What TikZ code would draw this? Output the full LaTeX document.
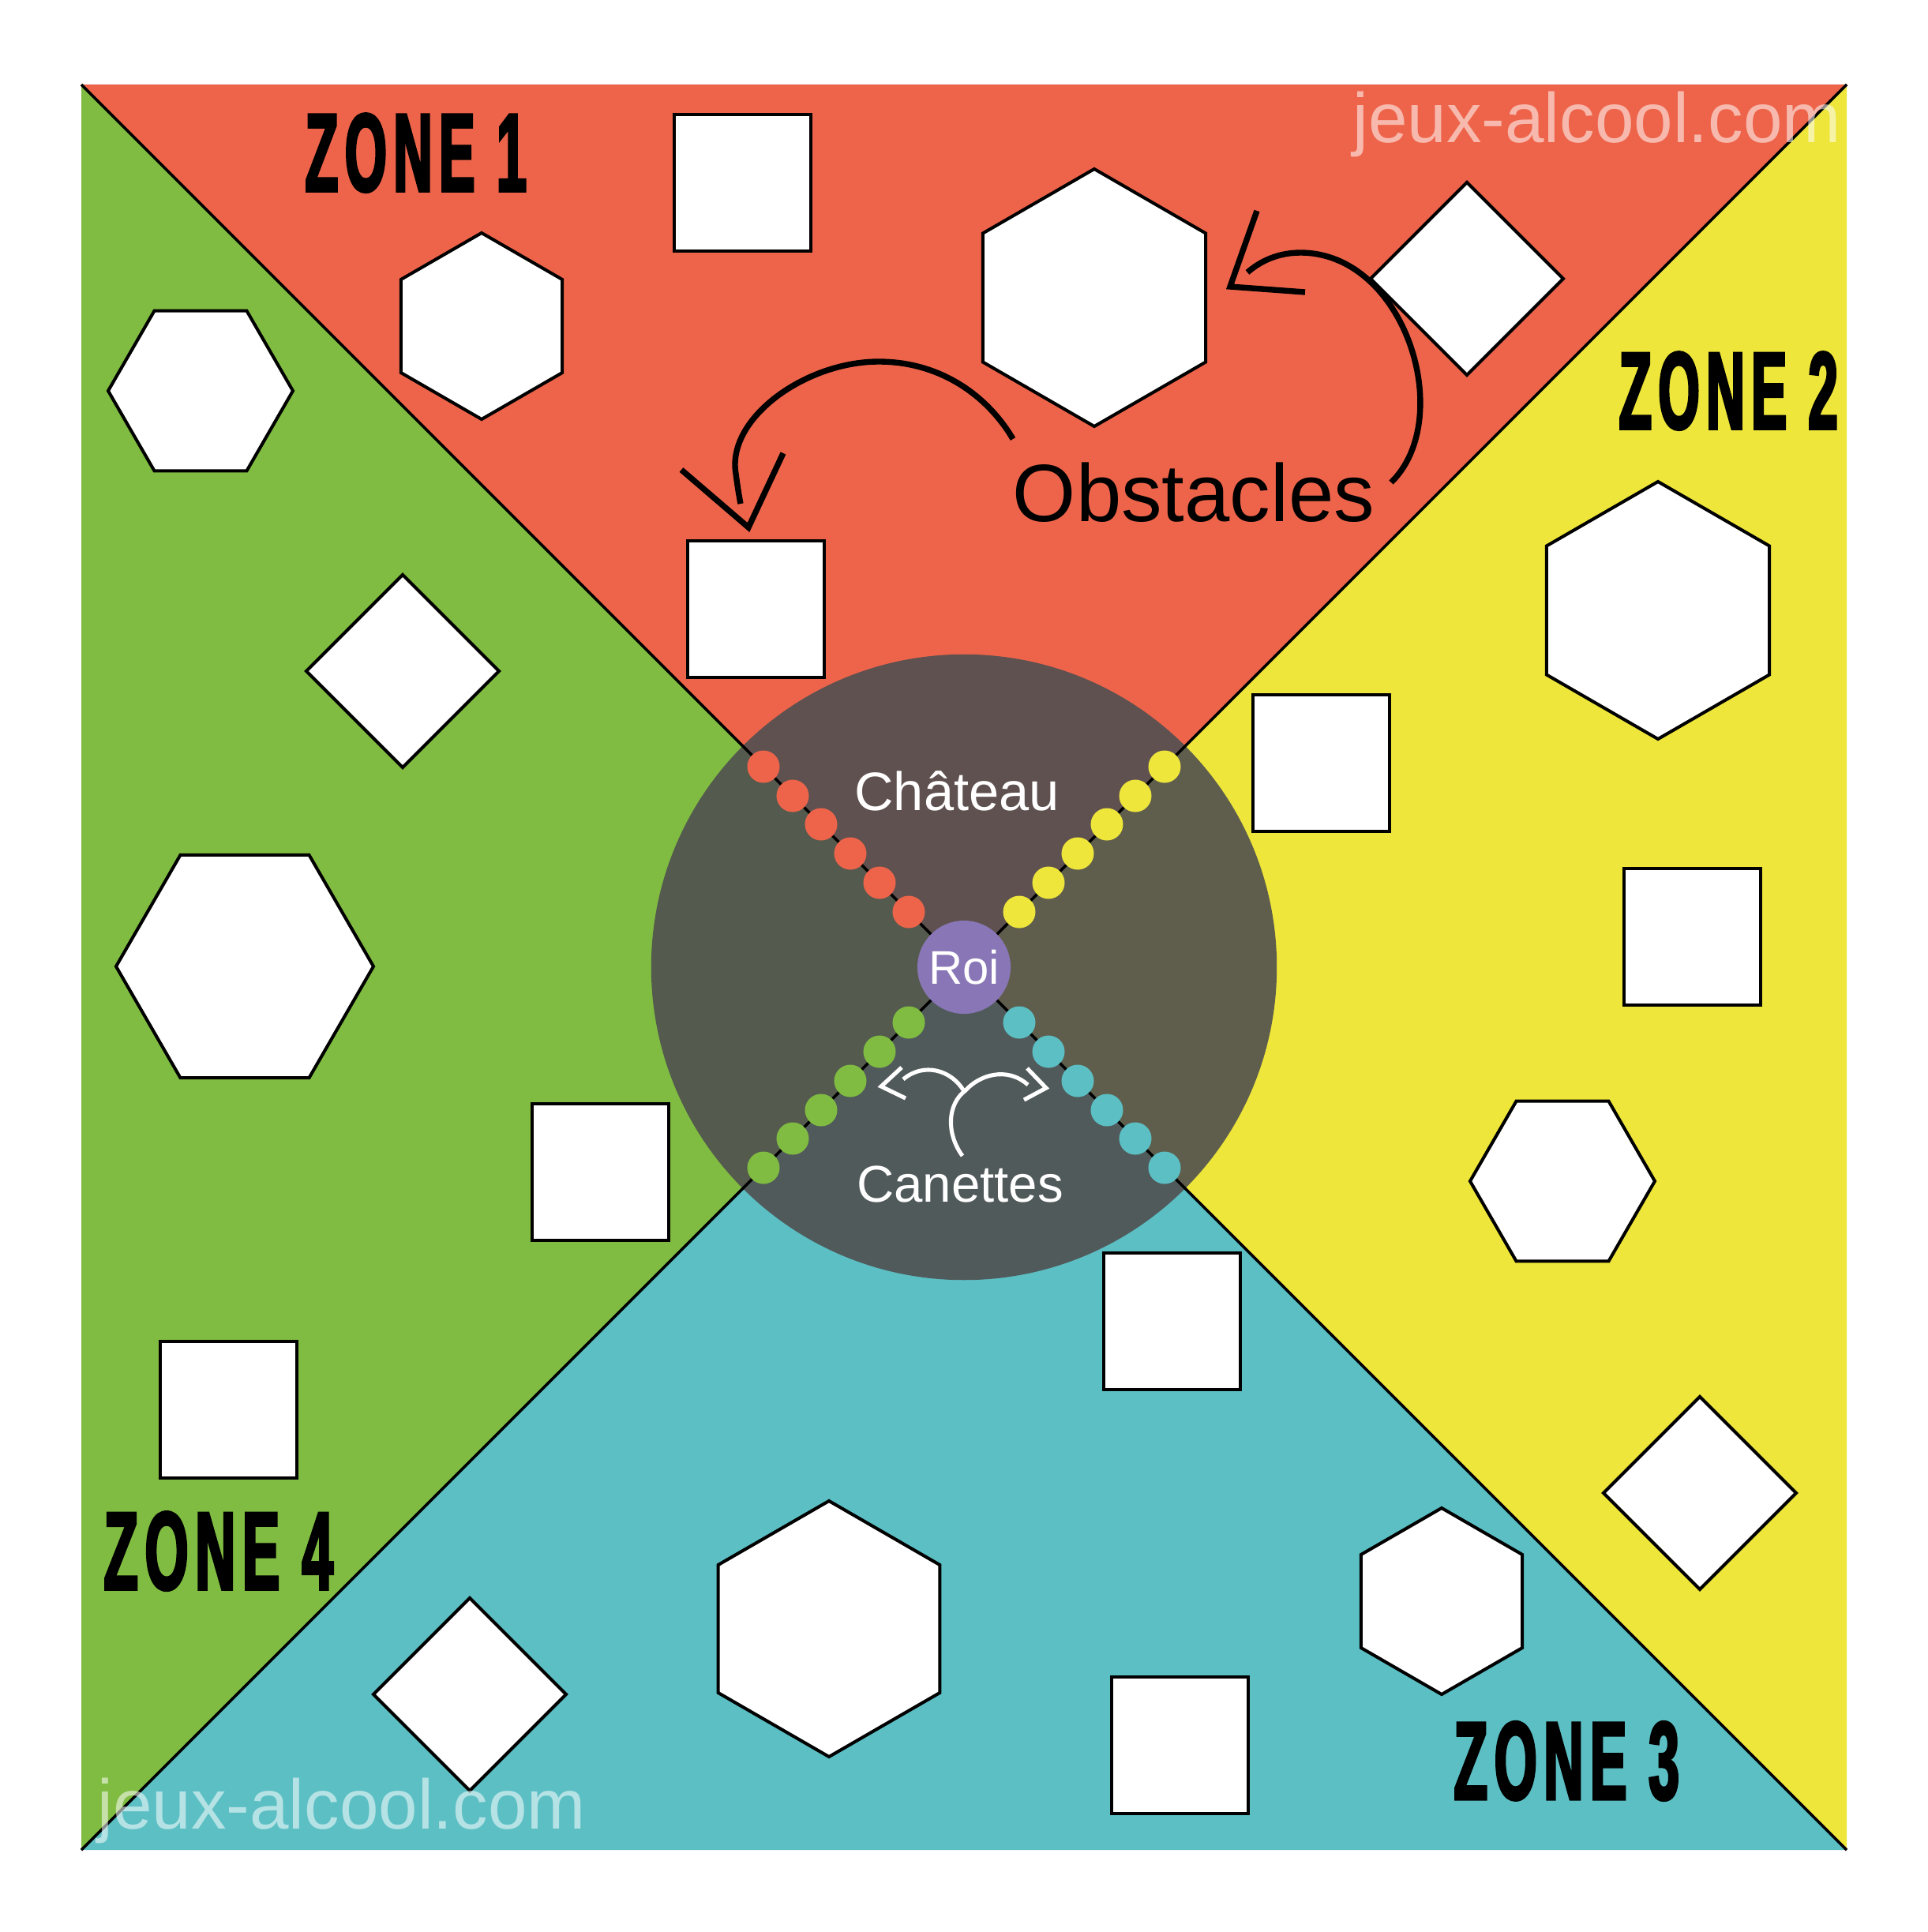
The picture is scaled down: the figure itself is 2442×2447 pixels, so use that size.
\documentclass[tikz,border=0pt]{standalone}
\usepackage{fontspec}
\setmainfont{Liberation Sans}
\newfontfamily\zonefont{Liberation Sans}[FakeStretch=0.56,FakeBold=2.6,LetterSpace=7]
\definecolor{zred}{RGB}{238,100,74}
\definecolor{zyel}{RGB}{238,230,58}
\definecolor{zteal}{RGB}{91,191,196}
\definecolor{zgreen}{RGB}{128,188,65}
\definecolor{roicol}{RGB}{137,118,182}
\definecolor{ovl}{RGB}{80,80,80}
\newcommand\hexP[3]{\draw[obst,shift={(#1,#2)}] (90:#3) -- (150:#3) -- (210:#3) -- (270:#3) -- (330:#3) -- (30:#3) -- cycle;}
\newcommand\hexF[3]{\draw[obst,shift={(#1,#2)}] (0:#3) -- (60:#3) -- (120:#3) -- (180:#3) -- (240:#3) -- (300:#3) -- cycle;}
\newcommand\obsSq[2]{\draw[obst] (#1,#2) rectangle ++(173,173);}
\newcommand\obsDia[2]{\draw[obst,shift={(#1,#2)}] (0,-122) -- (122,0) -- (0,122) -- (-122,0) -- cycle;}
\tikzset{
  obst/.style={draw=black, fill=white, line width=1.15pt, line join=miter},
  diagline/.style={draw=black, line width=1pt},
  barrow/.style={draw=black, line width=2.1pt},
  warrow/.style={draw=white, line width=1.45pt},
  zonelab/.style={inner sep=0pt, anchor=south west, text=black},
  wm/.style={inner sep=0pt, anchor=base west, text=white, text opacity=0.55, font=\fontsize{25.3pt}{26pt}\selectfont},
}
\begin{document}
\begin{tikzpicture}[x=0.01cm,y=-0.01cm]
\useasboundingbox (0,0) rectangle (2442,2447);
\coordinate (tl) at (103,107);
\coordinate (tr) at (2339,107);
\coordinate (br) at (2339,2343);
\coordinate (bl) at (103,2343);
\coordinate (c) at (1221,1225);
% zones
\fill[zred] (tl) -- (tr) -- (c) -- cycle;
\fill[zyel] (tr) -- (br) -- (c) -- cycle;
\fill[zteal] (br) -- (bl) -- (c) -- cycle;
\fill[zgreen] (bl) -- (tl) -- (c) -- cycle;
% obstacles zone 1
\obsSq{854}{145}
\obsSq{871}{685}
\hexP{610}{413}{118}
\hexP{1386}{377}{163}
\obsDia{1858}{353}
% zone 2
\hexP{2100}{773}{163}
\obsSq{1587}{880}
\obsSq{2057}{1100}
\hexF{1979}{1496}{117}
\obsDia{2153}{1891}
% zone 3
\obsSq{1398}{1587}
\obsSq{1408}{2124}
\hexP{1050}{2063}{162}
\hexP{1826}{2028}{118}
\obsDia{595}{2146}
% zone 4
\hexF{254}{495}{117}
\hexF{310}{1224}{163}
\obsDia{510}{850}
\obsSq{674}{1398}
\obsSq{203}{1699}
% castle
\fill[ovl, fill opacity=0.9] (c) circle[radius=3.96cm];
\draw[diagline] (tl) -- (br);
\draw[diagline] (tr) -- (bl);
\foreach \d in {70,107,144,181,217,254}{
  \fill[zred] ({1221-\d},{1225-\d}) circle[radius=0.205cm];
  \fill[zyel] ({1221+\d},{1225-\d}) circle[radius=0.205cm];
  \fill[zgreen] ({1221-\d},{1225+\d}) circle[radius=0.205cm];
  \fill[zteal] ({1221+\d},{1225+\d}) circle[radius=0.205cm];
}
\node[circle, fill=roicol, minimum size=1.18cm, inner sep=0pt, text=white, font=\fontsize{17pt}{18pt}\selectfont] (roi) at (c) {Roi};
\node[inner sep=0pt, anchor=base, text=white, font=\fontsize{19.5pt}{20pt}\selectfont] (chateau) at (1212,1026) {Château};
\node[inner sep=0pt, anchor=base, text=white, font=\fontsize{18.6pt}{20pt}\selectfont] (canettes) at (1216,1522) {Canettes};
% white arrows
\draw[warrow] (1219,1464) .. controls (1198,1435) and (1200,1398) .. (1223,1381)
  .. controls (1240,1362) and (1275,1350) .. (1302,1374);
\draw[warrow] (1221,1382) .. controls (1205,1355) and (1170,1345) .. (1144,1367);
\draw[warrow] (1142,1352) -- (1116,1376) -- (1147,1391);
\draw[warrow] (1301,1353) -- (1325,1378) -- (1297,1393);
% obstacles label and arrows
\node[inner sep=0pt, anchor=base, text=black, font=\fontsize{29.3pt}{30pt}\selectfont] (obstacles) at (1512,660) {Obstacles};
\draw[barrow] (1283,556) .. controls (1250,500) and (1190,458) .. (1113,458)
  .. controls (1020,458) and (920,530) .. (932,600)
  .. controls (934,615) and (936,628) .. (938,638);
\draw[barrow] (863,595) -- (948,668) -- (992,574);
\draw[barrow] (1762,611) .. controls (1845,530) and (1780,320) .. (1647,320)
  .. controls (1620,320) and (1597,330) .. (1580,345);
\draw[barrow] (1592,267) -- (1558,363) -- (1653,370);
% zone labels
\node[zonelab] (z1) at (386,244) {\resizebox{2.80cm}{0.98cm}{\zonefont\bfseries ZONE 1}};
\node[zonelab] (z2) at (2050,545) {\resizebox{2.77cm}{0.97cm}{\zonefont\bfseries ZONE 2}};
\node[zonelab] (z3) at (1841,2281) {\resizebox{2.85cm}{0.98cm}{\zonefont\bfseries ZONE 3}};
\node[zonelab] (z4) at (131,2015) {\resizebox{2.90cm}{0.98cm}{\zonefont\bfseries ZONE 4}};
% watermarks
\node[wm] (wm1) at (1713,180) {jeux-alcool.com};
\node[wm] (wm2) at (123,2316) {jeux-alcool.com};
\end{tikzpicture}
\end{document}
